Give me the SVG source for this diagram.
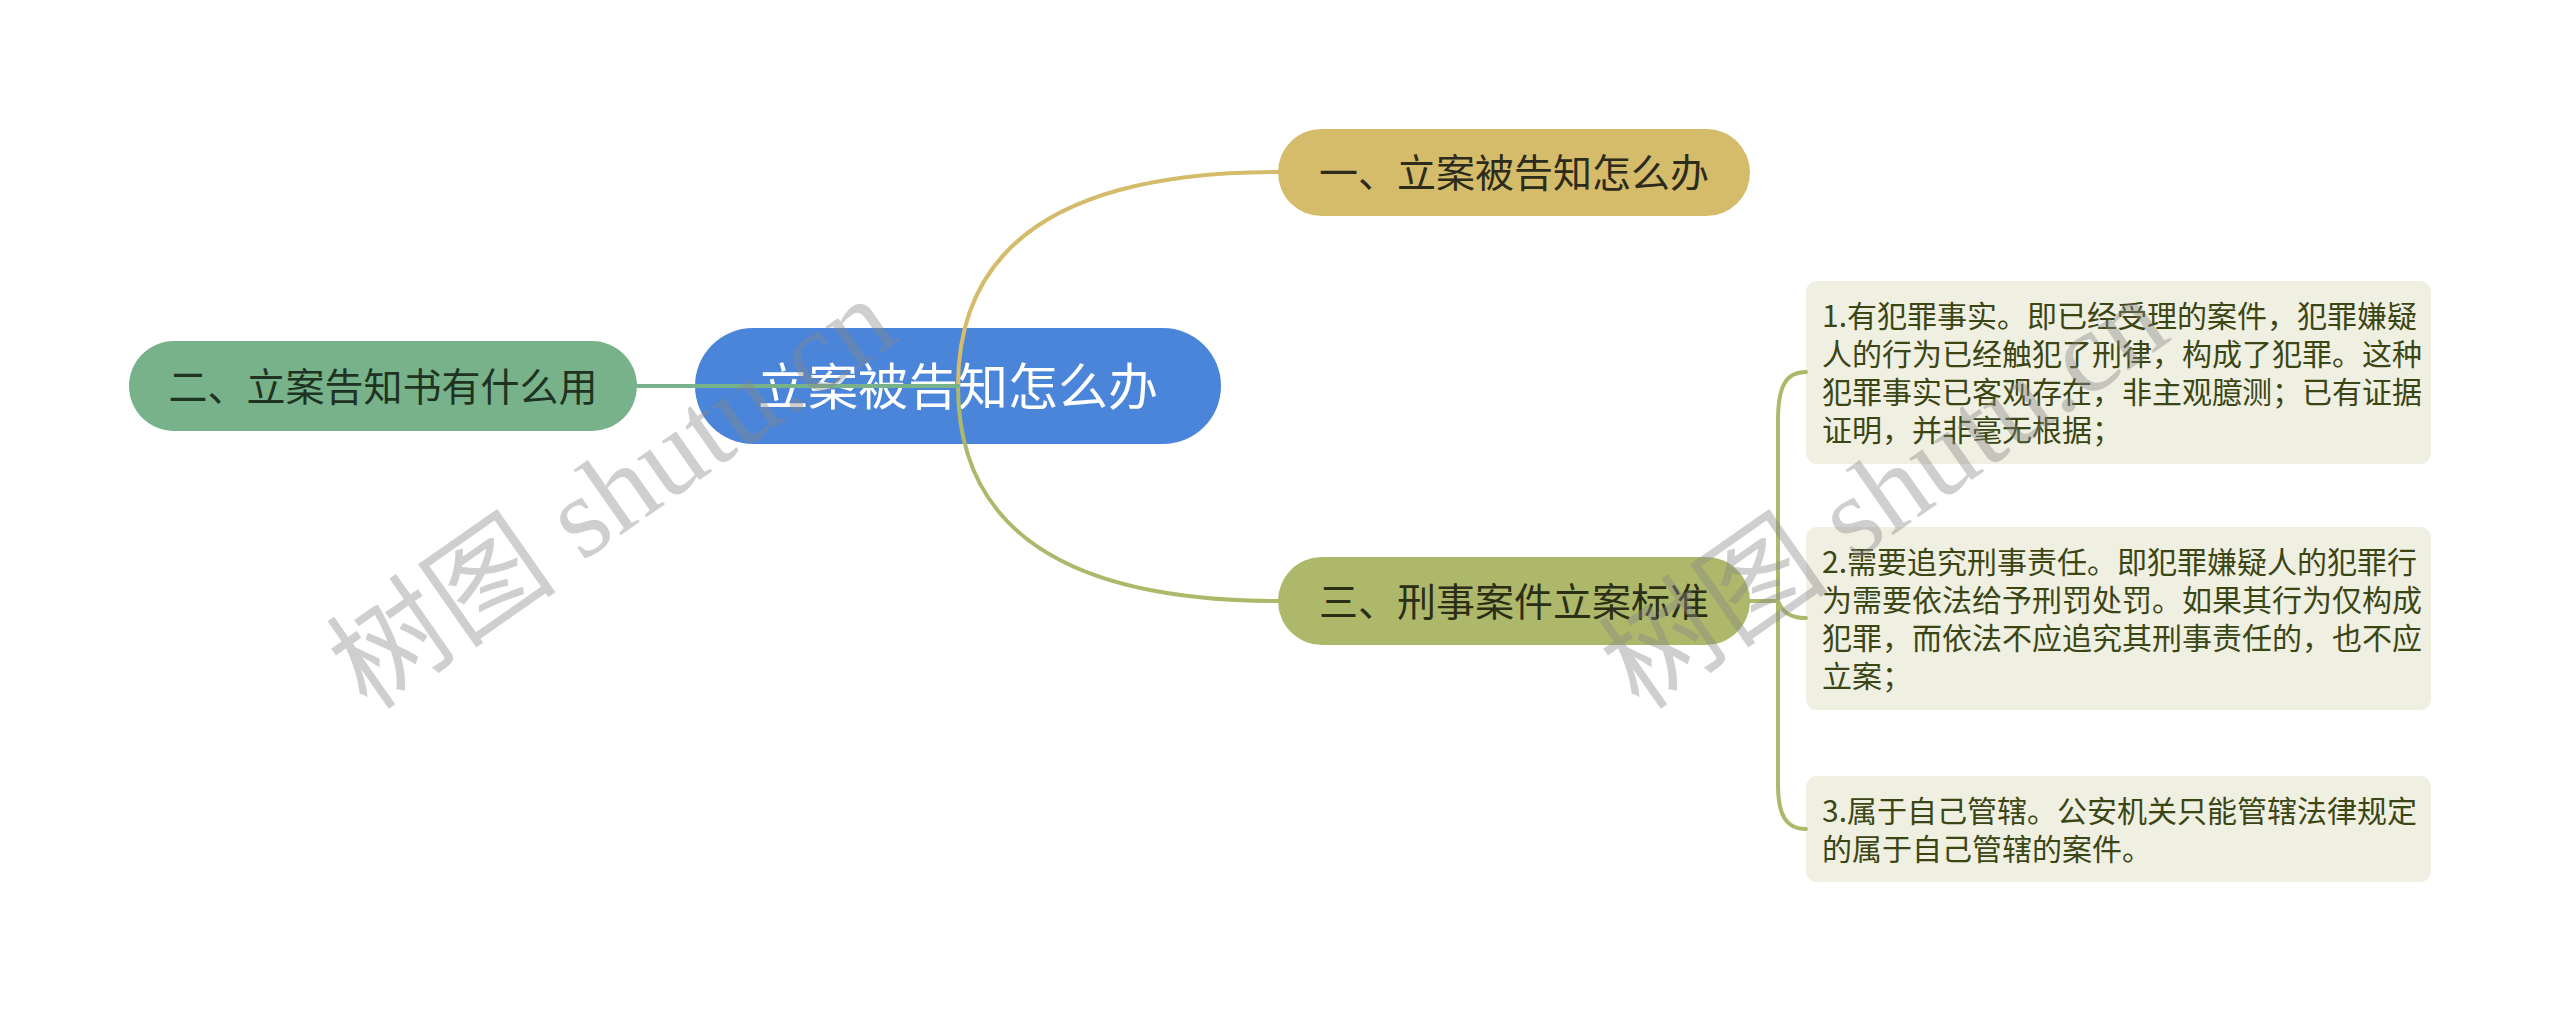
<svg xmlns="http://www.w3.org/2000/svg" width="2560" height="1009" viewBox="0 0 2560 1009">
<style>
.t{font-family:"Noto Sans CJK SC","Noto Sans",sans-serif;}
.main{font-size:50px;fill:#ffffff;text-anchor:middle;}
.sub{font-size:39px;text-anchor:middle;}
.leaf{font-size:30px;fill:#3b4614;}
.lbox{fill:#efefe2;}
.conn{fill:none;stroke-width:4;stroke-linecap:round;}
.wm{font-family:"Liberation Serif","Noto Sans CJK SC",serif;font-size:116px;fill:#888888;opacity:0.4;}
</style>
<rect width="2560" height="1009" fill="#ffffff"/>
<g id="node-center">
<rect x="695" y="328" width="526" height="116" rx="58" fill="#4b85d9"/>
<text class="t main" x="958" y="405">立案被告知怎么办</text>
</g>
<g id="node-1">
<rect x="1278" y="129" width="472" height="87" rx="43.5" fill="#d4bc6b"/>
<text class="t sub" x="1514" y="187" fill="#2d2b1c">一、立案被告知怎么办</text>
</g>
<g id="node-2">
<rect x="129" y="341" width="508" height="90" rx="45" fill="#78b28a"/>
<text class="t sub" x="383" y="401" fill="#1f3323">二、立案告知书有什么用</text>
</g>
<g id="node-3">
<rect x="1278" y="557" width="472" height="88" rx="44" fill="#aeb86b"/>
<text class="t sub" x="1514" y="616" fill="#2b2f16">三、刑事案件立案标准</text>
</g>
<g id="leaf-1">
<rect class="lbox" x="1806" y="281" width="625" height="183" rx="11"/>
<text class="t leaf" x="1822" y="327">1.有犯罪事实。即已经受理的案件，犯罪嫌疑</text>
<text class="t leaf" x="1822" y="365">人的行为已经触犯了刑律，构成了犯罪。这种</text>
<text class="t leaf" x="1822" y="403">犯罪事实已客观存在，非主观臆测；已有证据</text>
<text class="t leaf" x="1822" y="441">证明，并非毫无根据；</text>
</g>
<g id="leaf-2">
<rect class="lbox" x="1806" y="527" width="625" height="183" rx="11"/>
<text class="t leaf" x="1822" y="573">2.需要追究刑事责任。即犯罪嫌疑人的犯罪行</text>
<text class="t leaf" x="1822" y="611">为需要依法给予刑罚处罚。如果其行为仅构成</text>
<text class="t leaf" x="1822" y="649">犯罪，而依法不应追究其刑事责任的，也不应</text>
<text class="t leaf" x="1822" y="687">立案；</text>
</g>
<g id="leaf-3">
<rect class="lbox" x="1806" y="776" width="625" height="106" rx="11"/>
<text class="t leaf" x="1822" y="822">3.属于自己管辖。公安机关只能管辖法律规定</text>
<text class="t leaf" x="1822" y="860">的属于自己管辖的案件。</text>
</g>
<g id="connectors">
<path class="conn" stroke="#d4bc6b" d="M958,386 C958,240 1070,172 1278,172"/>
<path class="conn" stroke="#aeb86b" d="M958,386 C958,532 1070,601 1278,601"/>
<path class="conn" stroke="#78b28a" stroke-width="5" d="M637,386 L958,386"/>
<path class="conn" stroke="#aeb86b" d="M1750,601 L1778,601 L1778,420 C1778,386 1786,372 1806,372"/>
<path class="conn" stroke="#aeb86b" d="M1750,601 L1778,601 C1782,612 1790,618 1806,618"/>
<path class="conn" stroke="#aeb86b" d="M1750,601 L1778,601 L1778,785 C1778,815 1786,829 1806,829"/>
</g>
<g id="watermark">
<text class="wm" transform="translate(368,712) rotate(-35)">树图 shutu.cn</text>
<text class="wm" transform="translate(1640,712) rotate(-35)">树图 shutu.cn</text>
</g>
</svg>
